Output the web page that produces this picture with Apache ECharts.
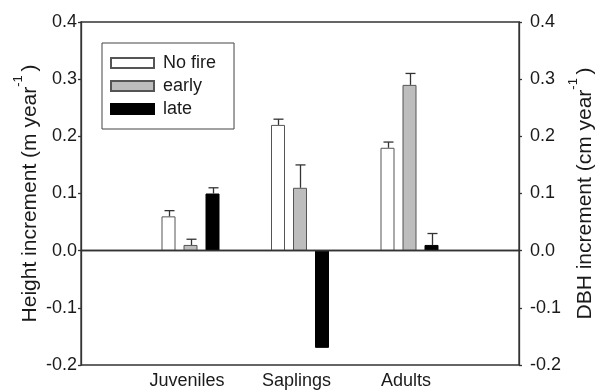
<!DOCTYPE html>
<html>
<head>
<meta charset="utf-8">
<script src="https://cdn.jsdelivr.net/npm/echarts@6/dist/echarts.min.js"></script>
<style>html,body{margin:0;padding:0;background:#fff;}#c{width:598px;height:390px;}</style>
</head>
<body>
<div id="c"></div>
<script>
// ---- data ----
const categories = ['', 'Juveniles', 'Saplings', 'Adults', ''];
const seriesNames = ['No fire', 'early', 'late'];
const noFire = [null, 0.06, 0.22, 0.18, null];
const early = [null, 0.01, 0.11, 0.29, null];
const late = [null, 0.10, -0.17, 0.01, null];
// upper end of the error bars (null = not visible)
const noFireErr = [null, 0.07, 0.23, 0.19, null];
const earlyErr = [null, 0.02, 0.15, 0.31, null];
const lateErr = [null, 0.11, null, 0.03, null];
const yTicks = [-0.2, -0.1, 0.0, 0.1, 0.2, 0.3, 0.4];

const FONT = 'Liberation Sans, Arial, sans-serif';
const AX = '#333';
const TXT = '#1a1a1a';
const values = [noFire, early, late];
const errs = [noFireErr, earlyErr, lateErr];
const fills = ['#ffffff', '#bdbdbd', '#000000'];
const borders = ['#555555', '#555555', '#000000'];
const BAR_W = 14, GAP = 8;
const offsets = [-(BAR_W + GAP), 0, BAR_W + GAP];

function errData(vals, ers) {
  const out = [];
  vals.forEach((v, i) => { if (v !== null && ers[i] !== null) out.push([i, v, ers[i]]); });
  return out;
}

const chart = echarts.init(document.getElementById('c'), null, {renderer: 'canvas'});

const series = [];
values.forEach((vals, k) => {
  const s = {
    name: seriesNames[k],
    type: 'bar',
    data: vals,
    barWidth: BAR_W,
    barGap: (GAP / BAR_W * 100) + '%',
    itemStyle: {color: fills[k], borderColor: borders[k], borderWidth: 1},
    emphasis: {disabled: true},
    animation: false
  };
  if (k === 0) {
    s.markLine = {
      silent: true, symbol: 'none', animation: false,
      label: {show: false},
      lineStyle: {color: AX, width: 1.3, type: 'solid'},
      data: [{yAxis: 0}]
    };
  }
  series.push(s);
});
errs.forEach((ers, k) => {
  series.push({
    type: 'custom',
    data: errData(values[k], ers),
    animation: false,
    z: 5,
    renderItem: function (params, api) {
      const cat = api.value(0), v = api.value(1), hi = api.value(2);
      const p1 = api.coord([cat, v]);
      const p2 = api.coord([cat, hi]);
      const x = Math.round(p1[0] + offsets[k]) + 0.5;
      const st = {stroke: AX, lineWidth: 1.3};
      return {
        type: 'group',
        children: [
          {type: 'line', shape: {x1: x, y1: p1[1], x2: x, y2: p2[1]}, style: st},
          {type: 'line', shape: {x1: x - 5, y1: p2[1], x2: x + 5, y2: p2[1]}, style: st}
        ]
      };
    }
  });
});

const yLabel = v => (Math.abs(v) < 1e-9 ? '0.0' : v.toFixed(1));
const nameRich = {
  a: {fontSize: 21, fontFamily: FONT, color: TXT, lineHeight: 29, verticalAlign: 'bottom'},
  s: {fontSize: 13, fontFamily: FONT, color: TXT, lineHeight: 13, verticalAlign: 'top'}
};

chart.setOption({
  backgroundColor: '#fff',
  animation: false,
  grid: {left: 81, right: 79, top: 22, bottom: 25, show: true, borderColor: AX, borderWidth: 1.3,
         backgroundColor: 'transparent', containLabel: false, outerBoundsMode: 'none'},
  legend: {
    orient: 'vertical',
    left: 102, top: 43,
    data: seriesNames,
    icon: 'rect',
    itemWidth: 43, itemHeight: 10, itemGap: 5,
    padding: [11, 18, 11, 8],
    borderColor: '#444', borderWidth: 1,
    textStyle: {fontSize: 18, fontFamily: FONT, color: TXT, padding: [0, 0, 0, 4]},
    selectedMode: false
  },
  xAxis: {
    type: 'category',
    data: categories,
    boundaryGap: false,
    axisLine: {show: true, lineStyle: {color: AX, width: 1.3}},
    axisTick: {show: false},
    axisLabel: {fontSize: 18, fontFamily: FONT, color: TXT, margin: 7, interval: 0, padding: [0, 7, 0, 0]},
    splitLine: {show: false}
  },
  yAxis: [
    {
      type: 'value', position: 'left', min: yTicks[0], max: yTicks[yTicks.length - 1], interval: 0.1,
      axisLine: {show: true, lineStyle: {color: AX, width: 1.3}},
      axisTick: {show: true, length: 3, lineStyle: {color: AX, width: 1.3}},
      axisLabel: {fontSize: 18, fontFamily: FONT, color: TXT, margin: 4, formatter: yLabel},
      splitLine: {show: false},
      name: '{a|Height increment (m year}{s|-1 }{a|)}',
      nameLocation: 'middle', nameGap: 40, nameMoveOverlap: false,
      nameTextStyle: {rich: nameRich}
    },
    {
      type: 'value', position: 'right', min: yTicks[0], max: yTicks[yTicks.length - 1], interval: 0.1,
      axisLine: {show: true, lineStyle: {color: AX, width: 1.3}},
      axisTick: {show: true, length: 3, lineStyle: {color: AX, width: 1.3}},
      axisLabel: {fontSize: 18, fontFamily: FONT, color: TXT, margin: 11, formatter: yLabel},
      splitLine: {show: false},
      name: '{a|DBH increment (cm year}{s|-1 }{a|)}',
      nameLocation: 'middle', nameGap: 48, nameMoveOverlap: false,
      nameTextStyle: {rich: nameRich}
    }
  ],
  series: series
});
</script>
</body>
</html>
